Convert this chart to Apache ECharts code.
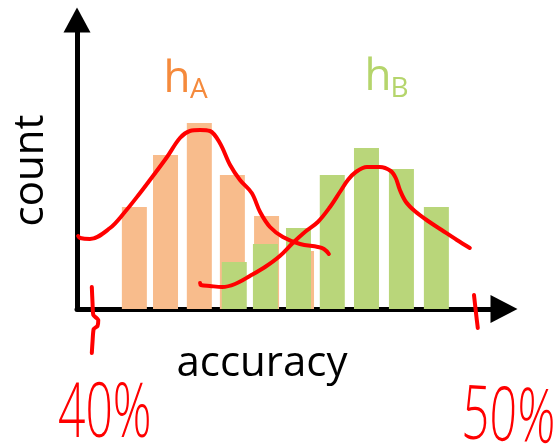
<!DOCTYPE html>
<html>
<head>
<meta charset="utf-8">
<style>
  html, body { margin: 0; padding: 0; background: #ffffff; }
  #chart { width: 557px; height: 445px; }
</style>
<script src="https://cdn.jsdelivr.net/npm/echarts@6/dist/echarts.min.js"></script>
</head>
<body>
<div id="chart"></div>
<script>
// Histogram bins (accuracy, %) and counts for the two classifiers
const binsA = [41.09, 41.91, 42.80, 43.67, 44.57, 45.49];
const countsA = [102, 154, 186, 134, 93, 58];
const binsB = [43.72, 44.54, 45.41, 46.30, 47.20, 48.12, 49.04];
const countsB = [47, 65, 81, 134, 161, 140, 102];

// Hand-sketched density curves over each histogram: [accuracy, count]
const curveA = [
  [39.61, 73], [39.66, 71], [39.92, 70], [40.45, 81], [40.84, 97], [41.24, 116],
  [41.50, 129], [41.95, 152], [42.29, 171], [42.55, 178], [42.82, 179],
  [43.08, 178], [43.34, 166], [43.61, 144], [43.87, 129], [44.18, 116],
  [44.40, 97], [44.66, 82], [45.00, 72], [45.45, 65], [45.92, 62],
  [46.08, 60], [46.21, 55]
];
const curveB = [
  [42.82, 26], [42.84, 24], [43.08, 23], [43.40, 22], [43.74, 25], [44.13, 33],
  [44.53, 42], [44.92, 53], [45.26, 66], [45.58, 77], [45.92, 87],
  [46.24, 102], [46.50, 117], [46.71, 129], [46.92, 137], [47.21, 142],
  [47.55, 142], [47.84, 138], [47.97, 131], [48.08, 119], [48.24, 107],
  [48.47, 98], [48.82, 88], [49.18, 79], [49.58, 69], [49.92, 61]
];
// Pen marks at the 40% and 50% positions on the accuracy axis
const mark40 = [[39.97, 22], [39.99, 5], [40.01, -6], [40.14, -11], [40.12, -17], [40.02, -20], [39.99, -32], [39.97, -44]];
const mark50 = [[50.03, 14], [50.08, -3], [50.13, -19]];

const labelA = ['h', 'A'];
const labelB = ['h', 'B'];
const axisNames = { x: 'accuracy', y: 'count' };
const endLabels = ['40%', '50%'];

const orangeBar = '#F8BC8C';
const greenBar = '#B9D67A';
const orangeText = '#F58A3C';
const greenText = '#B5D56C';
const pen = '#FF0000';
const font = '"Open Sans", "DejaVu Sans", sans-serif';

const chart = echarts.init(document.getElementById('chart'), null, { renderer: 'canvas' });

function penLine(data, smooth) {
  return {
    type: 'line', data: data, smooth: smooth, symbol: 'none', clip: false, z: 10,
    lineStyle: { color: pen, width: 4, cap: 'round', join: 'round' },
    silent: true, animation: false
  };
}

chart.setOption({
  animation: false,
  grid: { left: 77, right: 53, top: 20, bottom: 136, containLabel: false },
  xAxis: {
    type: 'value', min: 39.58, max: 50.82,
    axisLine: {
      show: true, onZero: false,
      symbol: ['none', 'triangle'], symbolSize: [28, 27],
      lineStyle: { color: '#000', width: 5 }
    },
    axisTick: { show: false }, axisLabel: { show: false }, splitLine: { show: false }, z: 0
  },
  yAxis: {
    type: 'value', min: 0, max: 289,
    axisLine: {
      show: true, onZero: false,
      symbol: ['none', 'triangle'], symbolSize: [27, 25],
      lineStyle: { color: '#000', width: 5 }
    },
    axisTick: { show: false }, axisLabel: { show: false }, splitLine: { show: false }, z: 0
  },
  series: [
    {
      type: 'bar', name: 'hA', barWidth: 25, barGap: '-100%', z: 1,
      data: binsA.map((x, i) => [x, countsA[i]]),
      itemStyle: { color: orangeBar }
    },
    {
      type: 'bar', name: 'hB', barWidth: 25, barGap: '-100%', z: 2,
      data: binsB.map((x, i) => [x, countsB[i]]),
      itemStyle: { color: greenBar }
    },
    penLine(curveA, 0.35),
    penLine(curveB, 0.35),
    penLine(mark40, 0.2),
    penLine(mark50, 0.2)
  ],
  graphic: [
    { type: 'text', x: 31, y: 170.5, rotation: Math.PI / 2,
      style: { text: axisNames.y, font: '42px ' + font, fill: '#000', align: 'center', verticalAlign: 'middle' } },
    { type: 'text', x: 262, y: 364,
      style: { text: axisNames.x, font: '42px ' + font, fill: '#000', align: 'center', verticalAlign: 'middle' } },
    { type: 'text', x: 163.5, y: 79.5,
      style: { text: labelA[0], font: '44px ' + font, fill: orangeText, align: 'left', verticalAlign: 'middle' } },
    { type: 'text', x: 190, y: 90,
      style: { text: labelA[1], font: '28px ' + font, fill: orangeText, align: 'left', verticalAlign: 'middle' } },
    { type: 'text', x: 364.5, y: 77.5,
      style: { text: labelB[0], font: '44px ' + font, fill: greenText, align: 'left', verticalAlign: 'middle' } },
    { type: 'text', x: 390.5, y: 89,
      style: { text: labelB[1], font: '28px ' + font, fill: greenText, align: 'left', verticalAlign: 'middle' } },
    { type: 'text', x: 58, y: 416, scaleX: 0.64,
      style: { text: endLabels[0], font: '300 75px ' + font, fill: pen, align: 'left', verticalAlign: 'middle' } },
    { type: 'text', x: 462, y: 417, scaleX: 0.64, rotation: -0.05,
      style: { text: endLabels[1], font: '300 75px ' + font, fill: pen, align: 'left', verticalAlign: 'middle' } }
  ]
});
</script>
</body>
</html>
